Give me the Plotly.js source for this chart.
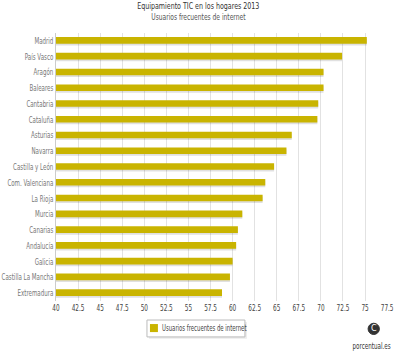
<!DOCTYPE html>
<html>
<head>
<meta charset="utf-8">
<script src="https://cdn.plot.ly/plotly-3.0.1.min.js"></script>
<style>html,body{margin:0;padding:0;background:#fff;}#chart{width:400px;height:360px;}</style>
</head>
<body>
<div id="chart"></div>
<script>
const regions = ["Madrid","País Vasco","Aragón","Baleares","Cantabria","Cataluña","Asturias","Navarra","Castilla y León","Com. Valenciana","La Rioja","Murcia","Canarias","Andalucía","Galicia","Castilla La Mancha","Extremadura"];
const usuarios = [75.2,72.4,70.3,70.3,69.7,69.6,66.7,66.1,64.7,63.7,63.4,61.1,60.6,60.4,60.0,59.7,58.8];
const xTicks = [40,42.5,45,47.5,50,52.5,55,57.5,60,62.5,65,67.5,70,72.5,75,77.5];
const seriesName = "Usuarios frecuentes de internet";
const chartTitle = "Equipamiento TIC en los hogares 2013";
const chartSubtitle = "Usuarios frecuentes de internet";
const brand = "porcentual.es";

const font = "'DejaVu Sans Condensed', 'Liberation Sans', sans-serif";
const barColor = "#C9B400";

const shadow = {
  type: "bar", orientation: "h", y: regions, x: usuarios.map(v => v - 40),
  base: 40, width: 0.42, offset: -0.13,
  marker: {color: "rgba(0,0,0,0.12)"},
  showlegend: false, hoverinfo: "skip"
};
const main = {
  type: "bar", orientation: "h", y: regions, x: usuarios.map(v => v - 40), name: seriesName,
  base: 40, width: 0.42, offset: -0.24,
  marker: {color: barColor}, showlegend: false
};

const layout = {
  width: 400, height: 360,
  margin: {l: 56, r: 12, t: 33, b: 59},
  paper_bgcolor: "#fff", plot_bgcolor: "#fff",
  barmode: "overlay",
  font: {family: font, color: "#666", size: 8},
  xaxis: {
    range: [40, 77.6], tickmode: "array", tickvals: xTicks,
    ticktext: xTicks.map(String),
    showgrid: true, gridcolor: "#e2e2e2", gridwidth: 1,
    zeroline: false, showline: false, ticks: "",
    tickfont: {family: font, size: 8.5, color: "#444"}
  },
  yaxis: {
    type: "category", autorange: "reversed",
    showgrid: false, zeroline: false, showline: true, linecolor: "#ccc", linewidth: 1,
    ticks: "",
    tickfont: {family: font, size: 8.5, color: "#777"}
  },
  showlegend: false,
  shapes: [
    {type: "rect", xref: "paper", yref: "paper", x0: 0.28, x1: 0.575, y0: -0.141, y1: -0.078,
     fillcolor: "rgba(0,0,0,0.08)", line: {width: 0}},
    {type: "rect", xref: "paper", yref: "paper", x0: 0.274, x1: 0.569, y0: -0.134, y1: -0.071,
     fillcolor: "#fff", line: {color: "#bbb", width: 1}},
    {type: "rect", xref: "paper", yref: "paper", x0: 0.283, x1: 0.307, y0: -0.116, y1: -0.086,
     fillcolor: barColor, line: {width: 0}},
    {type: "circle", xref: "paper", yref: "paper", x0: 0.94, x1: 0.974, y0: -0.125, y1: -0.083,
     fillcolor: "#333", line: {color: "#333", width: 1}}
  ],
  annotations: [
    {text: chartTitle, xref: "paper", yref: "paper", x: 0.43, y: 1.1, showarrow: false,
     font: {family: font, size: 9, color: "#333"}, xanchor: "center", yanchor: "middle"},
    {text: chartSubtitle, xref: "paper", yref: "paper", x: 0.43, y: 1.06, showarrow: false,
     font: {family: font, size: 8.5, color: "#555"}, xanchor: "center", yanchor: "middle"},
    {text: seriesName, xref: "paper", yref: "paper", x: 0.312, y: -0.101, showarrow: false,
     font: {family: font, size: 8.5, color: "#444"}, xanchor: "left", yanchor: "middle"},
    {text: "C", xref: "paper", yref: "paper", x: 0.957, y: -0.104, showarrow: false,
     font: {family: "DejaVu Sans", size: 8, color: "#fff"}, xanchor: "center", yanchor: "middle"},
    {text: brand, xref: "paper", yref: "paper", x: 0.95, y: -0.17, showarrow: false,
     font: {family: font, size: 8, color: "#333"}, xanchor: "center", yanchor: "middle"}
  ]
};

function squeeze(sel, factor) {
  document.querySelectorAll(sel).forEach(t => {
    const len = t.getComputedTextLength();
    if (len > 0) {
      t.setAttribute("textLength", (len * factor).toFixed(1));
      t.setAttribute("lengthAdjust", "spacingAndGlyphs");
    }
  });
}

Plotly.newPlot("chart", [shadow, main], layout, {displayModeBar: false, staticPlot: true}).then(() => {
  squeeze("#chart .ytick text", 0.72);
  squeeze("#chart .xtick text", 0.75);
  document.querySelectorAll("#chart .annotation-text").forEach(t => {
    const txt = t.textContent;
    if (txt === "C") return;
    const bb = t.getBBox();
    const len = t.getComputedTextLength();
    if (!(len > 0)) return;
    const isLegend = txt === seriesName && Math.abs(bb.y) > 0 && t.closest(".annotation") && t.getAttribute("x") !== null && bb.x > 0 && false;
    const f = 0.74;
    const leftAnchored = (txt === seriesName) && t.getBoundingClientRect().top > 200;
    if (leftAnchored) {
      t.setAttribute("text-anchor", "start");
      t.setAttribute("x", bb.x.toFixed(1));
      t.setAttribute("textLength", (len * 0.7).toFixed(1));
    } else {
      t.setAttribute("text-anchor", "middle");
      t.setAttribute("x", (bb.x + bb.width / 2).toFixed(1));
      t.setAttribute("textLength", (len * 0.78).toFixed(1));
    }
    t.setAttribute("lengthAdjust", "spacingAndGlyphs");
  });
});
</script>
</body>
</html>
